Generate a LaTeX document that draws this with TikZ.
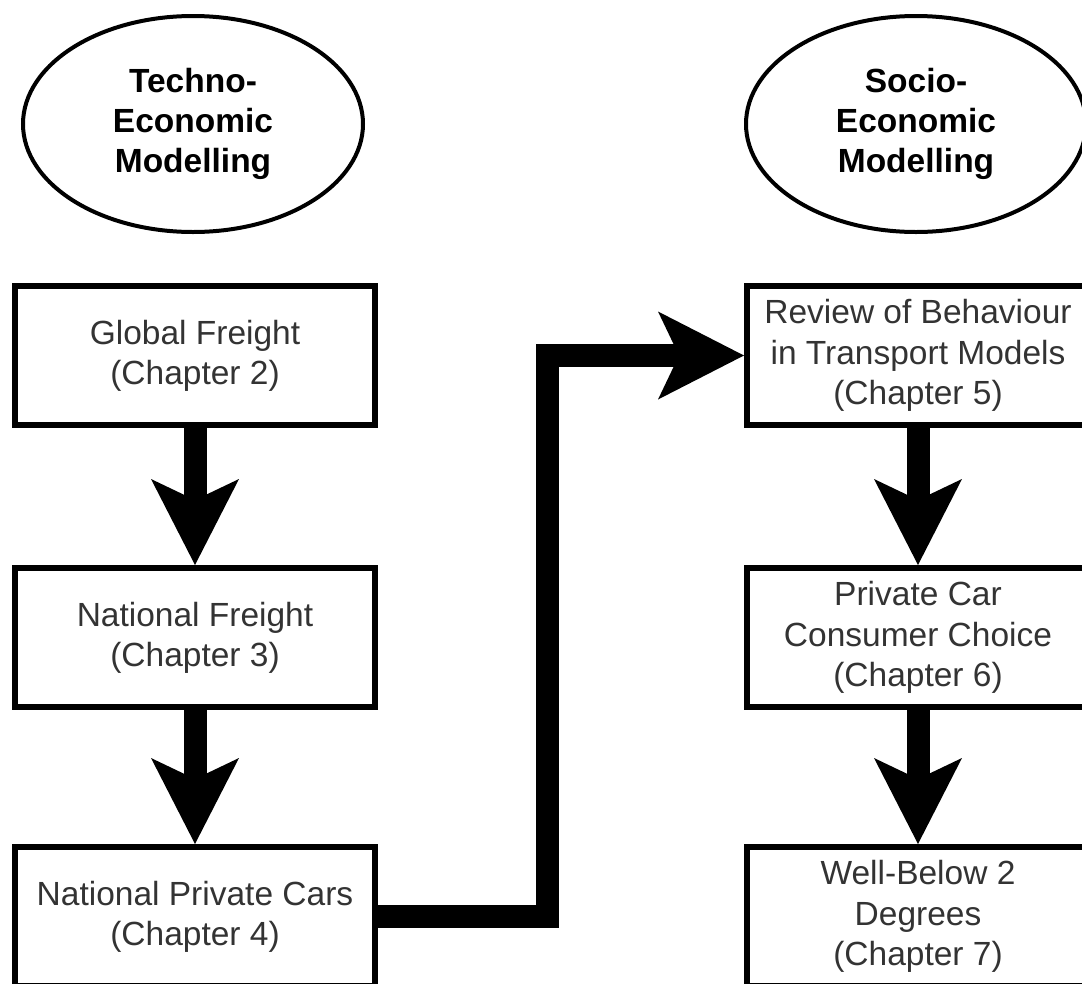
\documentclass[tikz,border=0pt]{standalone}
\usepackage{fontspec}
\setmainfont{Liberation Sans}
\usetikzlibrary{arrows.meta,shapes.geometric,calc}
\definecolor{textgray}{HTML}{333333}
\begin{document}
\begin{tikzpicture}[x=1pt,y=-1pt,
  every node/.style={font=\fontsize{33.5}{40.2}\selectfont, align=center},
  chapbox/.style={draw, line width=6pt, rectangle, inner sep=0pt, text=textgray, minimum height=139pt},
  leftbox/.style={chapbox, minimum width=360pt},
  rightbox/.style={chapbox, minimum width=342pt},
  theme/.style={draw, line width=4pt, ellipse, inner sep=0pt, minimum width=340pt, minimum height=216pt, font=\fontsize{33.5}{40.2}\selectfont\bfseries},
  flow/.style={line width=23pt, line join=miter, -{Stealth[length=86pt, width=88pt, inset=21pt, line width=0pt]}}
]
\useasboundingbox (0,0) rectangle (1082,983);
\clip (0,0) rectangle (1082,983);

\node[theme] (tech) at (193,124) {Techno-\\Economic\\Modelling};
\node[theme] (socio) at (916,124) {Socio-\\Economic\\Modelling};

\node[leftbox] (global) at (195,355.5) {Global Freight\\(Chapter 2)};
\node[leftbox] (natfr) at (195,637.5) {National Freight\\(Chapter 3)};
\node[leftbox] (natcar) at (195,916.5) {National Private Cars\\(Chapter 4)};

\node[rightbox] (review) at (918,355.5) {Review of Behaviour\\in Transport Models\\(Chapter 5)};
\node[rightbox] (choice) at (918,637.5) {Private Car\\Consumer Choice\\(Chapter 6)};
\node[rightbox] (wb2) at (918,916.5) {Well-Below 2\\Degrees\\(Chapter 7)};

\draw[flow] (global) -- (natfr);
\draw[flow] (natfr) -- (natcar);
\draw[flow] (review) -- (choice);
\draw[flow] (choice) -- (wb2);
\draw[flow] (natcar.east) -- ++(169,0) |- (review.west);
\end{tikzpicture}
\end{document}
